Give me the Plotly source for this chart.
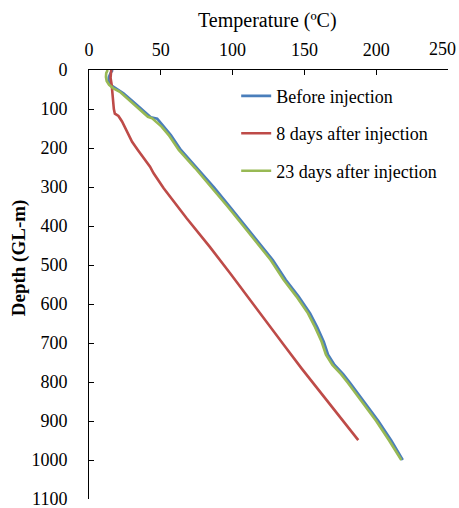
import plotly.graph_objects as go

# Depth (m) and temperature (°C)
before_depth = [0, 8, 18, 28, 38, 50, 60, 85, 105, 121, 125, 145, 167, 205, 252, 303, 350, 400, 450, 487,
                538, 581, 624, 660, 697, 730, 756, 780, 803, 850, 900, 950, 1000]
before_temp = [16.5, 15, 13.8, 13.6, 15, 20, 24, 32, 38, 43, 47.5, 52, 57, 64, 75.5, 87.5, 98, 109, 120, 128,
               137, 146, 154, 159, 163.5, 166.5, 171, 177, 182, 191.5, 201.5, 210.5, 218.5]

d8_depth = [0, 20, 38, 72, 100, 112, 118, 132, 160, 184, 205, 248, 265, 303, 380, 453, 520, 588, 650, 709,
            765, 820, 880, 949]
d8_temp = [15.5, 15, 15.8, 16.5, 17.3, 18, 20.5, 23, 27, 30, 34, 42.5, 45, 52, 68, 84, 98, 112, 125, 136.5,
           148, 160, 172.5, 187.5]

d23_depth = [0, 8, 18, 28, 38, 47, 56, 85, 105, 120, 124, 145, 167, 205, 252, 303, 350, 400, 450, 487,
             538, 581, 624, 660, 697, 730, 756, 780, 803, 850, 900, 950, 1000]
d23_temp = [13, 12, 11.8, 12.3, 14, 17, 21.5, 30.5, 36.5, 41, 44, 50.5, 55.5, 62.5, 74, 86, 96.5, 107.5,
            118.5, 126.5, 135.5, 144.5, 152.5, 157.5, 162, 165, 169.5, 175.5, 180.5, 190, 200, 209, 217.5]

series_names = ["Before injection", "8 days after injection", "23 days after injection"]
series_colors = ["#4A7EBB", "#BE4B48", "#98B954"]

x_ticks = [0, 50, 100, 150, 200, 250]
x_tick_labels = ["0", "50", "100", "150", "200", "250"]
y_ticks = [0, 100, 200, 300, 400, 500, 600, 700, 800, 900, 1000, 1100]

FONT = "Liberation Serif, Times New Roman, serif"

fig = go.Figure()
for name, color, xs, ys in zip(series_names, series_colors,
                               [before_temp, d8_temp, d23_temp],
                               [before_depth, d8_depth, d23_depth]):
    fig.add_trace(go.Scatter(x=xs, y=ys, mode="lines", name=name, legendgroup=name,
                             line=dict(color=color, width=2.6)))

# the last x label is pulled inward so it stays inside the page, as in the reference
axis_ticktext = x_tick_labels[:-1] + [""]
annotations = [
    dict(text=x_tick_labels[-1], xref="x", yref="paper", x=x_ticks[-1], y=1,
         xanchor="right", yanchor="middle", xshift=10, yshift=21, showarrow=False,
         font=dict(family=FONT, size=18, color="black")),
    dict(text="Temperature (ºC)", xref="paper", yref="paper", x=0.497, y=1.116,
         xanchor="center", yanchor="middle", showarrow=False,
         font=dict(family=FONT, size=20, color="black")),
    dict(text="<b>Depth (GL-m)</b>", xref="paper", yref="paper", x=-0.194, y=0.562,
         xanchor="center", yanchor="middle", showarrow=False, textangle=-90,
         font=dict(family=FONT, size=19, color="black")),
]

fig.update_layout(
    width=459, height=508,
    margin=dict(l=89, r=11, t=70, b=9, autoexpand=False),
    paper_bgcolor="white", plot_bgcolor="white",
    font=dict(family=FONT, size=18, color="black"),
    showlegend=True,
    legend=dict(x=0.41, y=0.982, xanchor="left", yanchor="top",
                bgcolor="rgba(0,0,0,0)", tracegroupgap=11,
                font=dict(family=FONT, size=18, color="black"),
                itemwidth=30),
    xaxis=dict(side="top", range=[0, 250], tickvals=x_ticks, ticktext=axis_ticktext,
               showgrid=False, zeroline=False,
               showline=True, linecolor="black", linewidth=1, ticks="inside", ticklen=5,
               tickcolor="black", ticklabelstandoff=6, automargin=False,
               ticklabeloverflow="allow",
               tickfont=dict(family=FONT, size=18, color="black")),
    yaxis=dict(range=[1100, 0], tickvals=y_ticks, showgrid=False, zeroline=False,
               showline=True, linecolor="black", linewidth=1, ticks="inside", ticklen=5,
               tickcolor="black", ticklabelstandoff=17, automargin=False,
               ticklabeloverflow="allow",
               tickfont=dict(family=FONT, size=18, color="black")),
    annotations=annotations,
)

# remove the default page margin so the figure fills the window exactly
fig.write_html(
    "out.html",
    config={"displayModeBar": False},
    post_script="document.body.style.margin='0';document.body.style.overflow='hidden';",
)
